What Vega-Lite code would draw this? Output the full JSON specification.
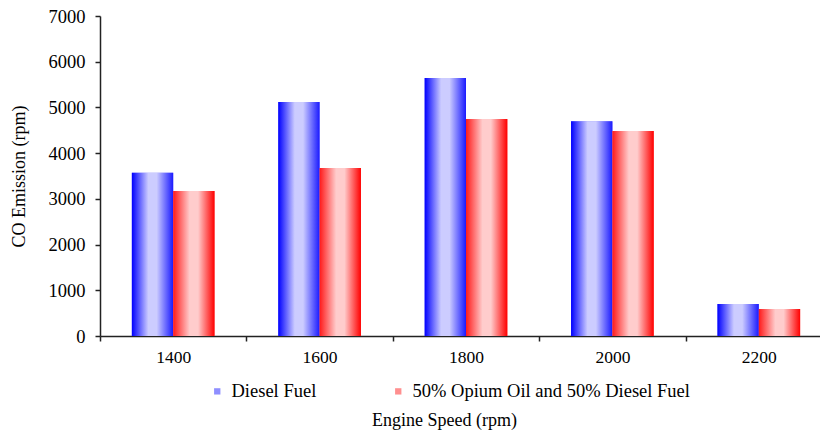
{
  "$schema": "https://vega.github.io/schema/vega-lite/v6.json",
  "width": 732,
  "height": 320,
  "autosize": "none",
  "padding": {"left": 100, "top": 16, "right": 0, "bottom": 96},
  "config": {
    "view": {"stroke": null},
    "font": "Liberation Serif",
    "axis": {"labelFont": "Liberation Serif", "titleFont": "Liberation Serif"},
    "legend": {"labelFont": "Liberation Serif", "titleFont": "Liberation Serif"}
  },
  "data": {
    "values": [
      {"speed": "1400", "series": "Diesel Fuel", "co": 3570},
      {"speed": "1400", "series": "50% Opium Oil and 50% Diesel Fuel", "co": 3170},
      {"speed": "1600", "series": "Diesel Fuel", "co": 5120},
      {"speed": "1600", "series": "50% Opium Oil and 50% Diesel Fuel", "co": 3675},
      {"speed": "1800", "series": "Diesel Fuel", "co": 5645},
      {"speed": "1800", "series": "50% Opium Oil and 50% Diesel Fuel", "co": 4745},
      {"speed": "2000", "series": "Diesel Fuel", "co": 4700},
      {"speed": "2000", "series": "50% Opium Oil and 50% Diesel Fuel", "co": 4485},
      {"speed": "2200", "series": "Diesel Fuel", "co": 700},
      {"speed": "2200", "series": "50% Opium Oil and 50% Diesel Fuel", "co": 590}
    ]
  },
  "encoding": {
    "x": {
      "field": "speed",
      "type": "ordinal",
      "scale": {"paddingInner": 0, "paddingOuter": 0},
      "axis": {
        "title": "Engine Speed (rpm)",
        "titleFont": "Liberation Serif",
        "titleFontSize": 18,
        "titleFontWeight": "normal",
        "titleColor": "#000",
        "titleX": 344,
        "titleY": 75,
        "titleAlign": "center",
        "titleBaseline": "top",
        "labelAngle": 0,
        "labelFont": "Liberation Serif",
        "labelFontSize": 17.5,
        "labelColor": "#000",
        "labelPadding": 7,
        "tickBand": "extent",
        "tickSize": 5,
        "tickColor": "#222",
        "domainColor": "#222",
        "domainWidth": 1.5,
        "tickWidth": 1.5,
        "grid": false
      }
    },
    "xOffset": {
      "field": "series",
      "type": "nominal",
      "sort": ["Diesel Fuel", "50% Opium Oil and 50% Diesel Fuel"],
      "scale": {"paddingInner": 0, "paddingOuter": 0.77}
    },
    "y": {
      "field": "co",
      "type": "quantitative",
      "scale": {"domain": [0, 7000], "nice": false},
      "axis": {
        "title": "CO Emission (rpm)",
        "titleFont": "Liberation Serif",
        "titleFontSize": 18,
        "titleFontWeight": "normal",
        "titleColor": "#000",
        "titlePadding": 20,
        "values": [0, 1000, 2000, 3000, 4000, 5000, 6000, 7000],
        "format": "d",
        "labelFont": "Liberation Serif",
        "labelFontSize": 18.5,
        "labelColor": "#000",
        "labelPadding": 10,
        "tickSize": 5,
        "tickColor": "#222",
        "domainColor": "#222",
        "domainWidth": 1.5,
        "tickWidth": 1.5,
        "grid": false
      }
    }
  },
  "layer": [
    {
      "mark": {"type": "bar"},
      "encoding": {
        "color": {
          "field": "series",
          "type": "nominal",
          "scale": {
            "domain": ["Diesel Fuel", "50% Opium Oil and 50% Diesel Fuel"],
            "range": ["#8f8fff", "#ff8f8f"]
          },
          "legend": {
            "title": null,
            "orient": "none",
            "legendX": 108,
            "legendY": 366,
            "direction": "horizontal",
            "symbolType": "square",
            "symbolSize": 40,
            "symbolStrokeWidth": 0,
            "labelFont": "Liberation Serif",
            "labelFontSize": 18.5,
            "labelColor": "#000",
            "labelOffset": 5,
            "labelLimit": 0,
            "columnPadding": 72
          }
        }
      }
    },
    {
      "transform": [{"filter": "datum.series === 'Diesel Fuel'"}],
      "mark": {
        "type": "bar",
        "fill": {
          "gradient": "linear",
          "x1": 0, "y1": 0, "x2": 1, "y2": 0,
          "stops": [
            {"offset": 0, "color": "#0000ff"},
            {"offset": 0.4, "color": "#ccccff"},
            {"offset": 0.6, "color": "#ccccff"},
            {"offset": 1, "color": "#1a1aff"}
          ]
        }
      }
    },
    {
      "transform": [{"filter": "datum.series !== 'Diesel Fuel'"}],
      "mark": {
        "type": "bar",
        "fill": {
          "gradient": "linear",
          "x1": 0, "y1": 0, "x2": 1, "y2": 0,
          "stops": [
            {"offset": 0, "color": "#ff1a1a"},
            {"offset": 0.4, "color": "#ffcccc"},
            {"offset": 0.6, "color": "#ffcccc"},
            {"offset": 1, "color": "#ff0000"}
          ]
        }
      }
    }
  ]
}
